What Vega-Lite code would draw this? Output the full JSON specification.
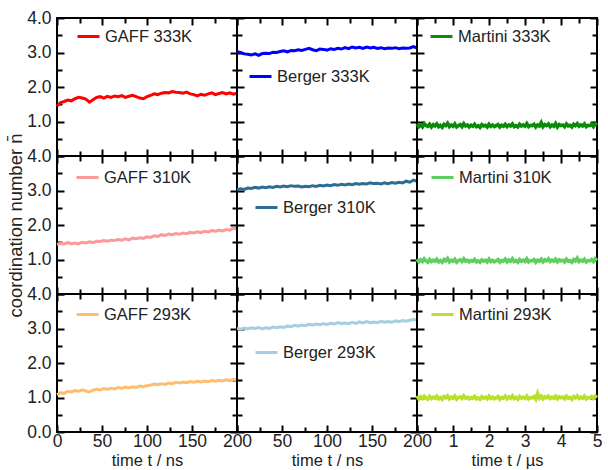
{
"$schema": "https://vega.github.io/schema/vega-lite/v6.json",
"padding": {"left": 5, "top": 8, "right": 3, "bottom": 1},
"datasets": {
"g333": [{"t":0,"n":1.45},{"t":4,"n":1.55},{"t":8,"n":1.58},{"t":12,"n":1.62},{"t":16,"n":1.60},{"t":20,"n":1.66},{"t":24,"n":1.70},{"t":28,"n":1.68},{"t":32,"n":1.65},{"t":36,"n":1.56},{"t":40,"n":1.63},{"t":44,"n":1.70},{"t":48,"n":1.72},{"t":52,"n":1.68},{"t":56,"n":1.73},{"t":60,"n":1.70},{"t":64,"n":1.74},{"t":68,"n":1.72},{"t":72,"n":1.75},{"t":76,"n":1.70},{"t":80,"n":1.73},{"t":84,"n":1.76},{"t":88,"n":1.72},{"t":92,"n":1.68},{"t":96,"n":1.66},{"t":100,"n":1.72},{"t":104,"n":1.76},{"t":108,"n":1.80},{"t":112,"n":1.78},{"t":116,"n":1.82},{"t":120,"n":1.84},{"t":124,"n":1.83},{"t":128,"n":1.87},{"t":132,"n":1.85},{"t":136,"n":1.84},{"t":140,"n":1.82},{"t":144,"n":1.85},{"t":148,"n":1.80},{"t":152,"n":1.78},{"t":156,"n":1.74},{"t":160,"n":1.79},{"t":164,"n":1.76},{"t":168,"n":1.80},{"t":172,"n":1.83},{"t":176,"n":1.78},{"t":180,"n":1.81},{"t":184,"n":1.84},{"t":188,"n":1.80},{"t":192,"n":1.83},{"t":196,"n":1.79},{"t":200,"n":1.82}],
"b333": [{"t":0,"n":3.02},{"t":4,"n":3.00},{"t":8,"n":2.96},{"t":12,"n":2.95},{"t":16,"n":2.93},{"t":20,"n":2.96},{"t":24,"n":2.92},{"t":28,"n":2.97},{"t":32,"n":2.98},{"t":36,"n":2.97},{"t":40,"n":3.01},{"t":44,"n":3.00},{"t":48,"n":3.03},{"t":52,"n":3.05},{"t":56,"n":3.02},{"t":60,"n":3.06},{"t":64,"n":3.05},{"t":68,"n":3.08},{"t":72,"n":3.06},{"t":76,"n":3.09},{"t":80,"n":3.12},{"t":84,"n":3.08},{"t":88,"n":3.05},{"t":92,"n":3.10},{"t":96,"n":3.09},{"t":100,"n":3.07},{"t":104,"n":3.11},{"t":108,"n":3.09},{"t":112,"n":3.12},{"t":116,"n":3.10},{"t":120,"n":3.14},{"t":124,"n":3.11},{"t":128,"n":3.16},{"t":132,"n":3.13},{"t":136,"n":3.15},{"t":140,"n":3.12},{"t":144,"n":3.16},{"t":148,"n":3.13},{"t":152,"n":3.15},{"t":156,"n":3.12},{"t":160,"n":3.14},{"t":164,"n":3.11},{"t":168,"n":3.13},{"t":172,"n":3.12},{"t":176,"n":3.14},{"t":180,"n":3.11},{"t":184,"n":3.13},{"t":188,"n":3.12},{"t":192,"n":3.13},{"t":196,"n":3.17},{"t":200,"n":3.13}],
"m333": [{"t":0,"n":0.93},{"t":0.05,"n":0.85},{"t":0.1,"n":0.90},{"t":0.15,"n":0.84},{"t":0.2,"n":0.94},{"t":0.25,"n":0.88},{"t":0.3,"n":0.86},{"t":0.35,"n":0.92},{"t":0.4,"n":0.84},{"t":0.45,"n":0.91},{"t":0.5,"n":0.87},{"t":0.55,"n":0.93},{"t":0.6,"n":0.85},{"t":0.65,"n":0.89},{"t":0.7,"n":0.83},{"t":0.75,"n":0.92},{"t":0.8,"n":0.88},{"t":0.85,"n":0.95},{"t":0.9,"n":0.85},{"t":0.95,"n":0.90},{"t":1.0,"n":0.86},{"t":1.05,"n":0.93},{"t":1.1,"n":0.84},{"t":1.15,"n":0.88},{"t":1.2,"n":0.91},{"t":1.25,"n":0.85},{"t":1.3,"n":0.94},{"t":1.35,"n":0.87},{"t":1.4,"n":0.90},{"t":1.45,"n":0.84},{"t":1.5,"n":0.89},{"t":1.55,"n":0.86},{"t":1.6,"n":0.92},{"t":1.65,"n":0.85},{"t":1.7,"n":0.88},{"t":1.75,"n":0.83},{"t":1.8,"n":0.91},{"t":1.85,"n":0.87},{"t":1.9,"n":0.89},{"t":1.95,"n":0.84},{"t":2.0,"n":0.92},{"t":2.05,"n":0.86},{"t":2.1,"n":0.90},{"t":2.15,"n":0.85},{"t":2.2,"n":0.88},{"t":2.25,"n":0.91},{"t":2.3,"n":0.84},{"t":2.35,"n":0.89},{"t":2.4,"n":0.86},{"t":2.45,"n":0.92},{"t":2.5,"n":0.85},{"t":2.55,"n":0.90},{"t":2.6,"n":0.87},{"t":2.65,"n":0.93},{"t":2.7,"n":0.85},{"t":2.75,"n":0.88},{"t":2.8,"n":0.84},{"t":2.85,"n":0.92},{"t":2.9,"n":0.87},{"t":2.95,"n":0.90},{"t":3.0,"n":0.86},{"t":3.05,"n":0.94},{"t":3.1,"n":0.85},{"t":3.15,"n":0.89},{"t":3.2,"n":0.88},{"t":3.25,"n":0.92},{"t":3.3,"n":0.84},{"t":3.35,"n":0.90},{"t":3.4,"n":0.87},{"t":3.45,"n":0.97},{"t":3.5,"n":0.85},{"t":3.55,"n":0.91},{"t":3.6,"n":0.88},{"t":3.65,"n":0.93},{"t":3.7,"n":0.85},{"t":3.75,"n":0.90},{"t":3.8,"n":0.86},{"t":3.85,"n":0.94},{"t":3.9,"n":0.84},{"t":3.95,"n":0.91},{"t":4.0,"n":0.88},{"t":4.05,"n":0.90},{"t":4.1,"n":0.85},{"t":4.15,"n":0.93},{"t":4.2,"n":0.87},{"t":4.25,"n":0.89},{"t":4.3,"n":0.84},{"t":4.35,"n":0.92},{"t":4.4,"n":0.88},{"t":4.45,"n":0.94},{"t":4.5,"n":0.86},{"t":4.55,"n":0.90},{"t":4.6,"n":0.87},{"t":4.65,"n":0.93},{"t":4.7,"n":0.85},{"t":4.75,"n":0.89},{"t":4.8,"n":0.88},{"t":4.85,"n":0.92},{"t":4.9,"n":0.85},{"t":4.95,"n":0.94},{"t":5.0,"n":0.89}],
"g310": [{"t":0,"n":1.44},{"t":4,"n":1.47},{"t":8,"n":1.45},{"t":12,"n":1.49},{"t":16,"n":1.46},{"t":20,"n":1.48},{"t":24,"n":1.45},{"t":28,"n":1.50},{"t":32,"n":1.48},{"t":36,"n":1.51},{"t":40,"n":1.49},{"t":44,"n":1.53},{"t":48,"n":1.52},{"t":52,"n":1.55},{"t":56,"n":1.53},{"t":60,"n":1.56},{"t":64,"n":1.55},{"t":68,"n":1.58},{"t":72,"n":1.56},{"t":76,"n":1.60},{"t":80,"n":1.57},{"t":84,"n":1.62},{"t":88,"n":1.60},{"t":92,"n":1.63},{"t":96,"n":1.61},{"t":100,"n":1.66},{"t":104,"n":1.64},{"t":108,"n":1.69},{"t":112,"n":1.67},{"t":116,"n":1.72},{"t":120,"n":1.70},{"t":124,"n":1.74},{"t":128,"n":1.72},{"t":132,"n":1.75},{"t":136,"n":1.73},{"t":140,"n":1.77},{"t":144,"n":1.75},{"t":148,"n":1.79},{"t":152,"n":1.77},{"t":156,"n":1.80},{"t":160,"n":1.78},{"t":164,"n":1.82},{"t":168,"n":1.80},{"t":172,"n":1.84},{"t":176,"n":1.82},{"t":180,"n":1.85},{"t":184,"n":1.83},{"t":188,"n":1.87},{"t":192,"n":1.85},{"t":196,"n":1.91},{"t":200,"n":1.88}],
"b310": [{"t":0,"n":3.02},{"t":4,"n":3.05},{"t":8,"n":3.03},{"t":12,"n":3.07},{"t":16,"n":3.06},{"t":20,"n":3.09},{"t":24,"n":3.07},{"t":28,"n":3.10},{"t":32,"n":3.08},{"t":36,"n":3.11},{"t":40,"n":3.09},{"t":44,"n":3.12},{"t":48,"n":3.10},{"t":52,"n":3.13},{"t":56,"n":3.11},{"t":60,"n":3.14},{"t":64,"n":3.12},{"t":68,"n":3.13},{"t":72,"n":3.10},{"t":76,"n":3.12},{"t":80,"n":3.11},{"t":84,"n":3.14},{"t":88,"n":3.12},{"t":92,"n":3.15},{"t":96,"n":3.13},{"t":100,"n":3.16},{"t":104,"n":3.14},{"t":108,"n":3.17},{"t":112,"n":3.15},{"t":116,"n":3.18},{"t":120,"n":3.16},{"t":124,"n":3.19},{"t":128,"n":3.17},{"t":132,"n":3.20},{"t":136,"n":3.18},{"t":140,"n":3.20},{"t":144,"n":3.19},{"t":148,"n":3.22},{"t":152,"n":3.20},{"t":156,"n":3.21},{"t":160,"n":3.19},{"t":164,"n":3.22},{"t":168,"n":3.20},{"t":172,"n":3.23},{"t":176,"n":3.21},{"t":180,"n":3.24},{"t":184,"n":3.22},{"t":188,"n":3.27},{"t":192,"n":3.24},{"t":196,"n":3.30},{"t":200,"n":3.27}],
"m310": [{"t":0,"n":1.01},{"t":0.05,"n":0.93},{"t":0.1,"n":0.99},{"t":0.15,"n":0.94},{"t":0.2,"n":1.02},{"t":0.25,"n":0.96},{"t":0.3,"n":0.92},{"t":0.35,"n":1.00},{"t":0.4,"n":0.94},{"t":0.45,"n":0.98},{"t":0.5,"n":0.95},{"t":0.55,"n":1.01},{"t":0.6,"n":0.93},{"t":0.65,"n":0.97},{"t":0.7,"n":0.92},{"t":0.75,"n":1.00},{"t":0.8,"n":0.96},{"t":0.85,"n":1.03},{"t":0.9,"n":0.93},{"t":0.95,"n":0.98},{"t":1.0,"n":0.95},{"t":1.05,"n":1.01},{"t":1.1,"n":0.92},{"t":1.15,"n":0.97},{"t":1.2,"n":0.99},{"t":1.25,"n":0.94},{"t":1.3,"n":1.02},{"t":1.35,"n":0.95},{"t":1.4,"n":0.98},{"t":1.45,"n":0.93},{"t":1.5,"n":0.97},{"t":1.55,"n":0.95},{"t":1.6,"n":1.00},{"t":1.65,"n":0.93},{"t":1.7,"n":0.96},{"t":1.75,"n":0.92},{"t":1.8,"n":0.99},{"t":1.85,"n":0.95},{"t":1.9,"n":0.98},{"t":1.95,"n":0.93},{"t":2.0,"n":1.01},{"t":2.05,"n":0.94},{"t":2.1,"n":0.98},{"t":2.15,"n":0.93},{"t":2.2,"n":0.96},{"t":2.25,"n":1.00},{"t":2.3,"n":0.92},{"t":2.35,"n":0.97},{"t":2.4,"n":0.95},{"t":2.45,"n":1.01},{"t":2.5,"n":0.93},{"t":2.55,"n":0.99},{"t":2.6,"n":0.95},{"t":2.65,"n":1.02},{"t":2.7,"n":0.94},{"t":2.75,"n":0.97},{"t":2.8,"n":0.92},{"t":2.85,"n":1.00},{"t":2.9,"n":0.95},{"t":2.95,"n":0.98},{"t":3.0,"n":0.94},{"t":3.05,"n":1.02},{"t":3.1,"n":0.93},{"t":3.15,"n":0.97},{"t":3.2,"n":0.96},{"t":3.25,"n":1.00},{"t":3.3,"n":0.92},{"t":3.35,"n":0.98},{"t":3.4,"n":0.95},{"t":3.45,"n":1.01},{"t":3.5,"n":0.93},{"t":3.55,"n":0.99},{"t":3.6,"n":0.96},{"t":3.65,"n":1.02},{"t":3.7,"n":0.94},{"t":3.75,"n":0.98},{"t":3.8,"n":0.95},{"t":3.85,"n":1.01},{"t":3.9,"n":0.93},{"t":3.95,"n":0.99},{"t":4.0,"n":0.96},{"t":4.05,"n":0.98},{"t":4.1,"n":0.93},{"t":4.15,"n":1.01},{"t":4.2,"n":0.95},{"t":4.25,"n":0.97},{"t":4.3,"n":0.92},{"t":4.35,"n":1.00},{"t":4.4,"n":0.96},{"t":4.45,"n":1.04},{"t":4.5,"n":0.94},{"t":4.55,"n":0.98},{"t":4.6,"n":0.95},{"t":4.65,"n":1.01},{"t":4.7,"n":0.93},{"t":4.75,"n":0.97},{"t":4.8,"n":0.96},{"t":4.85,"n":1.00},{"t":4.9,"n":0.94},{"t":4.95,"n":1.02},{"t":5.0,"n":0.97}],
"g293": [{"t":0,"n":1.08},{"t":4,"n":1.14},{"t":8,"n":1.12},{"t":12,"n":1.18},{"t":16,"n":1.16},{"t":20,"n":1.20},{"t":24,"n":1.18},{"t":28,"n":1.22},{"t":32,"n":1.19},{"t":36,"n":1.16},{"t":40,"n":1.21},{"t":44,"n":1.24},{"t":48,"n":1.22},{"t":52,"n":1.26},{"t":56,"n":1.24},{"t":60,"n":1.27},{"t":64,"n":1.25},{"t":68,"n":1.29},{"t":72,"n":1.27},{"t":76,"n":1.30},{"t":80,"n":1.28},{"t":84,"n":1.31},{"t":88,"n":1.29},{"t":92,"n":1.33},{"t":96,"n":1.31},{"t":100,"n":1.34},{"t":104,"n":1.36},{"t":108,"n":1.39},{"t":112,"n":1.37},{"t":116,"n":1.40},{"t":120,"n":1.38},{"t":124,"n":1.42},{"t":128,"n":1.40},{"t":132,"n":1.44},{"t":136,"n":1.42},{"t":140,"n":1.45},{"t":144,"n":1.43},{"t":148,"n":1.46},{"t":152,"n":1.44},{"t":156,"n":1.47},{"t":160,"n":1.45},{"t":164,"n":1.48},{"t":168,"n":1.46},{"t":172,"n":1.49},{"t":176,"n":1.47},{"t":180,"n":1.50},{"t":184,"n":1.48},{"t":188,"n":1.51},{"t":192,"n":1.49},{"t":196,"n":1.53},{"t":200,"n":1.51}],
"b293": [{"t":0,"n":3.00},{"t":4,"n":2.98},{"t":8,"n":3.01},{"t":12,"n":2.99},{"t":16,"n":3.02},{"t":20,"n":3.00},{"t":24,"n":3.03},{"t":28,"n":2.99},{"t":32,"n":3.02},{"t":36,"n":3.00},{"t":40,"n":3.04},{"t":44,"n":3.02},{"t":48,"n":3.05},{"t":52,"n":3.03},{"t":56,"n":3.07},{"t":60,"n":3.05},{"t":64,"n":3.09},{"t":68,"n":3.07},{"t":72,"n":3.10},{"t":76,"n":3.08},{"t":80,"n":3.12},{"t":84,"n":3.10},{"t":88,"n":3.13},{"t":92,"n":3.11},{"t":96,"n":3.14},{"t":100,"n":3.12},{"t":104,"n":3.15},{"t":108,"n":3.13},{"t":112,"n":3.17},{"t":116,"n":3.14},{"t":120,"n":3.16},{"t":124,"n":3.14},{"t":128,"n":3.18},{"t":132,"n":3.15},{"t":136,"n":3.19},{"t":140,"n":3.16},{"t":144,"n":3.20},{"t":148,"n":3.17},{"t":152,"n":3.19},{"t":156,"n":3.17},{"t":160,"n":3.21},{"t":164,"n":3.18},{"t":168,"n":3.20},{"t":172,"n":3.18},{"t":176,"n":3.22},{"t":180,"n":3.20},{"t":184,"n":3.23},{"t":188,"n":3.21},{"t":192,"n":3.24},{"t":196,"n":3.26},{"t":200,"n":3.25}],
"m293": [{"t":0,"n":1.05},{"t":0.05,"n":0.96},{"t":0.1,"n":1.02},{"t":0.15,"n":0.97},{"t":0.2,"n":1.04},{"t":0.25,"n":0.99},{"t":0.3,"n":0.95},{"t":0.35,"n":1.03},{"t":0.4,"n":0.97},{"t":0.45,"n":1.01},{"t":0.5,"n":0.98},{"t":0.55,"n":1.04},{"t":0.6,"n":0.96},{"t":0.65,"n":1.00},{"t":0.7,"n":0.95},{"t":0.75,"n":1.03},{"t":0.8,"n":0.99},{"t":0.85,"n":1.05},{"t":0.9,"n":0.96},{"t":0.95,"n":1.01},{"t":1.0,"n":0.98},{"t":1.05,"n":1.04},{"t":1.1,"n":0.95},{"t":1.15,"n":1.00},{"t":1.2,"n":1.02},{"t":1.25,"n":0.97},{"t":1.3,"n":1.05},{"t":1.35,"n":0.98},{"t":1.4,"n":1.01},{"t":1.45,"n":0.96},{"t":1.5,"n":1.00},{"t":1.55,"n":0.98},{"t":1.6,"n":1.03},{"t":1.65,"n":0.96},{"t":1.7,"n":0.99},{"t":1.75,"n":0.95},{"t":1.8,"n":1.02},{"t":1.85,"n":0.98},{"t":1.9,"n":1.01},{"t":1.95,"n":0.96},{"t":2.0,"n":1.04},{"t":2.05,"n":0.97},{"t":2.1,"n":1.01},{"t":2.15,"n":0.96},{"t":2.2,"n":0.99},{"t":2.25,"n":1.03},{"t":2.3,"n":0.95},{"t":2.35,"n":1.00},{"t":2.4,"n":0.98},{"t":2.45,"n":1.04},{"t":2.5,"n":0.96},{"t":2.55,"n":1.02},{"t":2.6,"n":0.98},{"t":2.65,"n":1.05},{"t":2.7,"n":0.97},{"t":2.75,"n":1.00},{"t":2.8,"n":0.95},{"t":2.85,"n":1.03},{"t":2.9,"n":0.98},{"t":2.95,"n":1.01},{"t":3.0,"n":0.97},{"t":3.05,"n":1.04},{"t":3.1,"n":0.96},{"t":3.15,"n":1.00},{"t":3.2,"n":0.99},{"t":3.25,"n":1.03},{"t":3.3,"n":0.95},{"t":3.35,"n":1.12},{"t":3.4,"n":0.98},{"t":3.45,"n":1.04},{"t":3.5,"n":0.96},{"t":3.55,"n":1.02},{"t":3.6,"n":0.99},{"t":3.65,"n":1.04},{"t":3.7,"n":0.97},{"t":3.75,"n":1.01},{"t":3.8,"n":0.98},{"t":3.85,"n":1.04},{"t":3.9,"n":0.96},{"t":3.95,"n":1.02},{"t":4.0,"n":0.99},{"t":4.05,"n":1.01},{"t":4.1,"n":0.96},{"t":4.15,"n":1.04},{"t":4.2,"n":0.98},{"t":4.25,"n":1.00},{"t":4.3,"n":0.95},{"t":4.35,"n":1.03},{"t":4.4,"n":0.99},{"t":4.45,"n":1.05},{"t":4.5,"n":0.97},{"t":4.55,"n":1.01},{"t":4.6,"n":0.98},{"t":4.65,"n":1.04},{"t":4.7,"n":0.96},{"t":4.75,"n":1.00},{"t":4.8,"n":0.99},{"t":4.85,"n":1.03},{"t":4.9,"n":0.97},{"t":4.95,"n":1.04},{"t":5.0,"n":1.00}]
},
"columns": 3,
"spacing": 0,
"bounds": "flush",
"resolve": {"scale": {"color": "independent"}, "legend": {"color": "independent"}},
"concat": [
{"width":180,"height":138,"data":{"name":"g333"},
 "layer":[
  {"mark":{"type":"line","strokeWidth":3},
   "encoding":{
    "x":{"field":"t","type":"quantitative","scale":{"domain":[0,200]},"axis":{"orient":"bottom","offset":-7,"values":[0,50,100,150,200],"labels":false,"title":null}},
    "y":{"field":"n","type":"quantitative","scale":{"domain":[0,4]},"axis":{"orient":"left","offset":-7,"values":[0,1,2,3,4],"labelExpr":"datum.value > 0 ? format(datum.value, '.1f') : ''","title":null}},
    "color":{"datum":"GAFF 333K","type":"nominal","scale":{"range":["#ff0000"]},"legend":{"title":null,"orient":"none","legendX":19,"legendY":6}}}},
  {"mark":{"type":"line","opacity":0},"encoding":{"x":{"field":"t","type":"quantitative","axis":{"orient":"top","offset":-7,"values":[0,50,100,150,200],"labels":false,"title":null}},"y":{"field":"n","type":"quantitative","axis":{"orient":"right","offset":-7,"values":[0,1,2,3,4],"labels":false,"title":null}}}},
  {"mark":{"type":"line","opacity":0},"encoding":{"x":{"field":"t","type":"quantitative","axis":{"orient":"bottom","offset":-5,"tickSize":5,"values":[25,75,125,175],"labels":false,"title":null}},"y":{"field":"n","type":"quantitative","axis":{"orient":"left","offset":-5,"tickSize":5,"values":[0.5,1.5,2.5,3.5],"labels":false,"title":null}}}},
  {"mark":{"type":"line","opacity":0},"encoding":{"x":{"field":"t","type":"quantitative","axis":{"orient":"top","offset":-5,"tickSize":5,"values":[25,75,125,175],"labels":false,"title":null}},"y":{"field":"n","type":"quantitative","axis":{"orient":"right","offset":-5,"tickSize":5,"values":[0.5,1.5,2.5,3.5],"labels":false,"title":null}}}}
 ],
 "resolve":{"axis":{"x":"independent","y":"independent"}}},
{"width":180,"height":138,"data":{"name":"b333"},
 "layer":[
  {"mark":{"type":"line","strokeWidth":3},
   "encoding":{
    "x":{"field":"t","type":"quantitative","scale":{"domain":[0,200]},"axis":{"orient":"bottom","offset":-7,"values":[0,50,100,150,200],"labels":false,"title":null}},
    "y":{"field":"n","type":"quantitative","scale":{"domain":[0,4]},"axis":{"orient":"left","offset":-7,"values":[0,1,2,3,4],"labels":false,"title":null}},
    "color":{"datum":"Berger 333K","type":"nominal","scale":{"range":["#0000ff"]},"legend":{"title":null,"orient":"none","legendX":11,"legendY":46}}}},
  {"mark":{"type":"line","opacity":0},"encoding":{"x":{"field":"t","type":"quantitative","axis":{"orient":"top","offset":-7,"values":[0,50,100,150,200],"labels":false,"title":null}},"y":{"field":"n","type":"quantitative","axis":{"orient":"right","offset":-7,"values":[0,1,2,3,4],"labels":false,"title":null}}}},
  {"mark":{"type":"line","opacity":0},"encoding":{"x":{"field":"t","type":"quantitative","axis":{"orient":"bottom","offset":-5,"tickSize":5,"values":[25,75,125,175],"labels":false,"title":null}},"y":{"field":"n","type":"quantitative","axis":{"orient":"left","offset":-5,"tickSize":5,"values":[0.5,1.5,2.5,3.5],"labels":false,"title":null}}}},
  {"mark":{"type":"line","opacity":0},"encoding":{"x":{"field":"t","type":"quantitative","axis":{"orient":"top","offset":-5,"tickSize":5,"values":[25,75,125,175],"labels":false,"title":null}},"y":{"field":"n","type":"quantitative","axis":{"orient":"right","offset":-5,"tickSize":5,"values":[0.5,1.5,2.5,3.5],"labels":false,"title":null}}}}
 ],
 "resolve":{"axis":{"x":"independent","y":"independent"}}},
{"width":180,"height":138,"data":{"name":"m333"},
 "layer":[
  {"mark":{"type":"line","strokeWidth":3.5},
   "encoding":{
    "x":{"field":"t","type":"quantitative","scale":{"domain":[0,5]},"axis":{"orient":"bottom","offset":-7,"values":[0,1,2,3,4,5],"labels":false,"title":null}},
    "y":{"field":"n","type":"quantitative","scale":{"domain":[0,4]},"axis":{"orient":"left","offset":-7,"values":[0,1,2,3,4],"labels":false,"title":null}},
    "color":{"datum":"Martini 333K","type":"nominal","scale":{"range":["#0a8c0a"]},"legend":{"title":null,"orient":"none","legendX":12,"legendY":6}}}},
  {"mark":{"type":"line","opacity":0},"encoding":{"x":{"field":"t","type":"quantitative","axis":{"orient":"top","offset":-7,"values":[0,1,2,3,4,5],"labels":false,"title":null}},"y":{"field":"n","type":"quantitative","axis":{"orient":"right","offset":-7,"values":[0,1,2,3,4],"labels":false,"title":null}}}},
  {"mark":{"type":"line","opacity":0},"encoding":{"x":{"field":"t","type":"quantitative","axis":{"orient":"bottom","offset":-5,"tickSize":5,"values":[0.5,1.5,2.5,3.5,4.5],"labels":false,"title":null}},"y":{"field":"n","type":"quantitative","axis":{"orient":"left","offset":-5,"tickSize":5,"values":[0.5,1.5,2.5,3.5],"labels":false,"title":null}}}},
  {"mark":{"type":"line","opacity":0},"encoding":{"x":{"field":"t","type":"quantitative","axis":{"orient":"top","offset":-5,"tickSize":5,"values":[0.5,1.5,2.5,3.5,4.5],"labels":false,"title":null}},"y":{"field":"n","type":"quantitative","axis":{"orient":"right","offset":-5,"tickSize":5,"values":[0.5,1.5,2.5,3.5],"labels":false,"title":null}}}}
 ],
 "resolve":{"axis":{"x":"independent","y":"independent"}}},
{"width":180,"height":138,"data":{"name":"g310"},
 "layer":[
  {"mark":{"type":"line","strokeWidth":3},
   "encoding":{
    "x":{"field":"t","type":"quantitative","scale":{"domain":[0,200]},"axis":{"orient":"bottom","offset":-7,"values":[0,50,100,150,200],"labels":false,"title":null}},
    "y":{"field":"n","type":"quantitative","scale":{"domain":[0,4]},"axis":{"orient":"left","offset":-7,"values":[0,1,2,3,4],"labelExpr":"datum.value > 0 ? format(datum.value, '.1f') : ''","title":"coordination number n\u0304","titleFontSize":18.5}},
    "color":{"datum":"GAFF 310K","type":"nominal","scale":{"range":["#fb9a99"]},"legend":{"title":null,"orient":"none","legendX":18,"legendY":9}}}},
  {"mark":{"type":"line","opacity":0},"encoding":{"x":{"field":"t","type":"quantitative","axis":{"orient":"top","offset":-7,"values":[0,50,100,150,200],"labels":false,"title":null}},"y":{"field":"n","type":"quantitative","axis":{"orient":"right","offset":-7,"values":[0,1,2,3,4],"labels":false,"title":null}}}},
  {"mark":{"type":"line","opacity":0},"encoding":{"x":{"field":"t","type":"quantitative","axis":{"orient":"bottom","offset":-5,"tickSize":5,"values":[25,75,125,175],"labels":false,"title":null}},"y":{"field":"n","type":"quantitative","axis":{"orient":"left","offset":-5,"tickSize":5,"values":[0.5,1.5,2.5,3.5],"labels":false,"title":null}}}},
  {"mark":{"type":"line","opacity":0},"encoding":{"x":{"field":"t","type":"quantitative","axis":{"orient":"top","offset":-5,"tickSize":5,"values":[25,75,125,175],"labels":false,"title":null}},"y":{"field":"n","type":"quantitative","axis":{"orient":"right","offset":-5,"tickSize":5,"values":[0.5,1.5,2.5,3.5],"labels":false,"title":null}}}}
 ],
 "resolve":{"axis":{"x":"independent","y":"independent"}}},
{"width":180,"height":138,"data":{"name":"b310"},
 "layer":[
  {"mark":{"type":"line","strokeWidth":3},
   "encoding":{
    "x":{"field":"t","type":"quantitative","scale":{"domain":[0,200]},"axis":{"orient":"bottom","offset":-7,"values":[0,50,100,150,200],"labels":false,"title":null}},
    "y":{"field":"n","type":"quantitative","scale":{"domain":[0,4]},"axis":{"orient":"left","offset":-7,"values":[0,1,2,3,4],"labels":false,"title":null}},
    "color":{"datum":"Berger 310K","type":"nominal","scale":{"range":["#2c6e93"]},"legend":{"title":null,"orient":"none","legendX":17,"legendY":39}}}},
  {"mark":{"type":"line","opacity":0},"encoding":{"x":{"field":"t","type":"quantitative","axis":{"orient":"top","offset":-7,"values":[0,50,100,150,200],"labels":false,"title":null}},"y":{"field":"n","type":"quantitative","axis":{"orient":"right","offset":-7,"values":[0,1,2,3,4],"labels":false,"title":null}}}},
  {"mark":{"type":"line","opacity":0},"encoding":{"x":{"field":"t","type":"quantitative","axis":{"orient":"bottom","offset":-5,"tickSize":5,"values":[25,75,125,175],"labels":false,"title":null}},"y":{"field":"n","type":"quantitative","axis":{"orient":"left","offset":-5,"tickSize":5,"values":[0.5,1.5,2.5,3.5],"labels":false,"title":null}}}},
  {"mark":{"type":"line","opacity":0},"encoding":{"x":{"field":"t","type":"quantitative","axis":{"orient":"top","offset":-5,"tickSize":5,"values":[25,75,125,175],"labels":false,"title":null}},"y":{"field":"n","type":"quantitative","axis":{"orient":"right","offset":-5,"tickSize":5,"values":[0.5,1.5,2.5,3.5],"labels":false,"title":null}}}}
 ],
 "resolve":{"axis":{"x":"independent","y":"independent"}}},
{"width":180,"height":138,"data":{"name":"m310"},
 "layer":[
  {"mark":{"type":"line","strokeWidth":3.5},
   "encoding":{
    "x":{"field":"t","type":"quantitative","scale":{"domain":[0,5]},"axis":{"orient":"bottom","offset":-7,"values":[0,1,2,3,4,5],"labels":false,"title":null}},
    "y":{"field":"n","type":"quantitative","scale":{"domain":[0,4]},"axis":{"orient":"left","offset":-7,"values":[0,1,2,3,4],"labels":false,"title":null}},
    "color":{"datum":"Martini 310K","type":"nominal","scale":{"range":["#5fcf5f"]},"legend":{"title":null,"orient":"none","legendX":13,"legendY":9}}}},
  {"mark":{"type":"line","opacity":0},"encoding":{"x":{"field":"t","type":"quantitative","axis":{"orient":"top","offset":-7,"values":[0,1,2,3,4,5],"labels":false,"title":null}},"y":{"field":"n","type":"quantitative","axis":{"orient":"right","offset":-7,"values":[0,1,2,3,4],"labels":false,"title":null}}}},
  {"mark":{"type":"line","opacity":0},"encoding":{"x":{"field":"t","type":"quantitative","axis":{"orient":"bottom","offset":-5,"tickSize":5,"values":[0.5,1.5,2.5,3.5,4.5],"labels":false,"title":null}},"y":{"field":"n","type":"quantitative","axis":{"orient":"left","offset":-5,"tickSize":5,"values":[0.5,1.5,2.5,3.5],"labels":false,"title":null}}}},
  {"mark":{"type":"line","opacity":0},"encoding":{"x":{"field":"t","type":"quantitative","axis":{"orient":"top","offset":-5,"tickSize":5,"values":[0.5,1.5,2.5,3.5,4.5],"labels":false,"title":null}},"y":{"field":"n","type":"quantitative","axis":{"orient":"right","offset":-5,"tickSize":5,"values":[0.5,1.5,2.5,3.5],"labels":false,"title":null}}}}
 ],
 "resolve":{"axis":{"x":"independent","y":"independent"}}},
{"width":180,"height":138,"data":{"name":"g293"},
 "layer":[
  {"mark":{"type":"line","strokeWidth":3},
   "encoding":{
    "x":{"field":"t","type":"quantitative","scale":{"domain":[0,200]},"axis":{"orient":"bottom","offset":-7,"values":[0,50,100,150,200],"title":"time t / ns"}},
    "y":{"field":"n","type":"quantitative","scale":{"domain":[0,4]},"axis":{"orient":"left","offset":-7,"values":[0,1,2,3,4],"format":".1f","title":null}},
    "color":{"datum":"GAFF 293K","type":"nominal","scale":{"range":["#fdbf6f"]},"legend":{"title":null,"orient":"none","legendX":18,"legendY":8}}}},
  {"mark":{"type":"line","opacity":0},"encoding":{"x":{"field":"t","type":"quantitative","axis":{"orient":"top","offset":-7,"values":[0,50,100,150,200],"labels":false,"title":null}},"y":{"field":"n","type":"quantitative","axis":{"orient":"right","offset":-7,"values":[0,1,2,3,4],"labels":false,"title":null}}}},
  {"mark":{"type":"line","opacity":0},"encoding":{"x":{"field":"t","type":"quantitative","axis":{"orient":"bottom","offset":-5,"tickSize":5,"values":[25,75,125,175],"labels":false,"title":null}},"y":{"field":"n","type":"quantitative","axis":{"orient":"left","offset":-5,"tickSize":5,"values":[0.5,1.5,2.5,3.5],"labels":false,"title":null}}}},
  {"mark":{"type":"line","opacity":0},"encoding":{"x":{"field":"t","type":"quantitative","axis":{"orient":"top","offset":-5,"tickSize":5,"values":[25,75,125,175],"labels":false,"title":null}},"y":{"field":"n","type":"quantitative","axis":{"orient":"right","offset":-5,"tickSize":5,"values":[0.5,1.5,2.5,3.5],"labels":false,"title":null}}}}
 ],
 "resolve":{"axis":{"x":"independent","y":"independent"}}},
{"width":180,"height":138,"data":{"name":"b293"},
 "layer":[
  {"mark":{"type":"line","strokeWidth":3},
   "encoding":{
    "x":{"field":"t","type":"quantitative","scale":{"domain":[0,200]},"axis":{"orient":"bottom","offset":-7,"values":[0,50,100,150,200],"labelExpr":"datum.value > 0 ? datum.label : ''","title":"time t / ns"}},
    "y":{"field":"n","type":"quantitative","scale":{"domain":[0,4]},"axis":{"orient":"left","offset":-7,"values":[0,1,2,3,4],"labels":false,"title":null}},
    "color":{"datum":"Berger 293K","type":"nominal","scale":{"range":["#a6cee3"]},"legend":{"title":null,"orient":"none","legendX":17,"legendY":46}}}},
  {"mark":{"type":"line","opacity":0},"encoding":{"x":{"field":"t","type":"quantitative","axis":{"orient":"top","offset":-7,"values":[0,50,100,150,200],"labels":false,"title":null}},"y":{"field":"n","type":"quantitative","axis":{"orient":"right","offset":-7,"values":[0,1,2,3,4],"labels":false,"title":null}}}},
  {"mark":{"type":"line","opacity":0},"encoding":{"x":{"field":"t","type":"quantitative","axis":{"orient":"bottom","offset":-5,"tickSize":5,"values":[25,75,125,175],"labels":false,"title":null}},"y":{"field":"n","type":"quantitative","axis":{"orient":"left","offset":-5,"tickSize":5,"values":[0.5,1.5,2.5,3.5],"labels":false,"title":null}}}},
  {"mark":{"type":"line","opacity":0},"encoding":{"x":{"field":"t","type":"quantitative","axis":{"orient":"top","offset":-5,"tickSize":5,"values":[25,75,125,175],"labels":false,"title":null}},"y":{"field":"n","type":"quantitative","axis":{"orient":"right","offset":-5,"tickSize":5,"values":[0.5,1.5,2.5,3.5],"labels":false,"title":null}}}}
 ],
 "resolve":{"axis":{"x":"independent","y":"independent"}}},
{"width":180,"height":138,"data":{"name":"m293"},
 "layer":[
  {"mark":{"type":"line","strokeWidth":3.5},
   "encoding":{
    "x":{"field":"t","type":"quantitative","scale":{"domain":[0,5]},"axis":{"orient":"bottom","offset":-7,"values":[0,1,2,3,4,5],"labelExpr":"datum.value > 0 ? format(datum.value, 'd') : ''","title":"time t / µs"}},
    "y":{"field":"n","type":"quantitative","scale":{"domain":[0,4]},"axis":{"orient":"left","offset":-7,"values":[0,1,2,3,4],"labels":false,"title":null}},
    "color":{"datum":"Martini 293K","type":"nominal","scale":{"range":["#b8e02c"]},"legend":{"title":null,"orient":"none","legendX":13,"legendY":8}}}},
  {"mark":{"type":"line","opacity":0},"encoding":{"x":{"field":"t","type":"quantitative","axis":{"orient":"top","offset":-7,"values":[0,1,2,3,4,5],"labels":false,"title":null}},"y":{"field":"n","type":"quantitative","axis":{"orient":"right","offset":-7,"values":[0,1,2,3,4],"labels":false,"title":null}}}},
  {"mark":{"type":"line","opacity":0},"encoding":{"x":{"field":"t","type":"quantitative","axis":{"orient":"bottom","offset":-5,"tickSize":5,"values":[0.5,1.5,2.5,3.5,4.5],"labels":false,"title":null}},"y":{"field":"n","type":"quantitative","axis":{"orient":"left","offset":-5,"tickSize":5,"values":[0.5,1.5,2.5,3.5],"labels":false,"title":null}}}},
  {"mark":{"type":"line","opacity":0},"encoding":{"x":{"field":"t","type":"quantitative","axis":{"orient":"top","offset":-5,"tickSize":5,"values":[0.5,1.5,2.5,3.5,4.5],"labels":false,"title":null}},"y":{"field":"n","type":"quantitative","axis":{"orient":"right","offset":-5,"tickSize":5,"values":[0.5,1.5,2.5,3.5],"labels":false,"title":null}}}}
 ],
 "resolve":{"axis":{"x":"independent","y":"independent"}}}
],
"config": {
 "font": "Liberation Sans",
 "view": {"stroke": "#000", "strokeWidth": 2},
 "axis": {"grid": false, "domain": false, "tickColor": "#000", "tickWidth": 2, "tickSize": 7, "labelFont": "Liberation Sans", "labelFontSize": 17.5, "labelColor": "#222", "labelFlush": false, "labelOverlap": false, "titleFont": "Liberation Sans", "titleFontSize": 16.5, "titleFontWeight": "normal", "titleColor": "#222", "titlePadding": 1},
 "axisX": {"labelPadding": 0, "titlePadding": 3},
 "axisY": {"labelPadding": 6},
 "legend": {"symbolType": "stroke", "symbolSize": 484, "symbolStrokeWidth": 3, "labelFont": "Liberation Sans", "labelFontSize": 16.5, "labelColor": "#222", "labelOffset": 4, "padding": 0}
}
}
